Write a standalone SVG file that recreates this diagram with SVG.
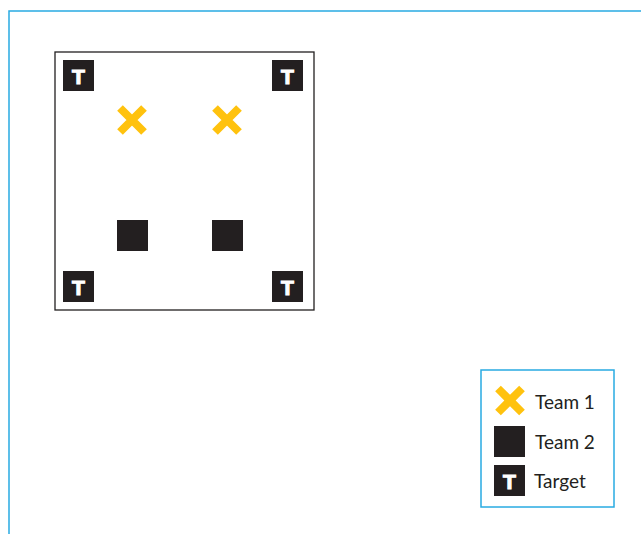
<svg xmlns="http://www.w3.org/2000/svg" width="641" height="534" viewBox="0 0 641 534">
<defs>
<style>
.frame{fill:none;stroke:#29abe2;stroke-width:1.5}
.field{fill:#fff;stroke:#231f20;stroke-width:1.3}
.dark{fill:#231f20}
.x{stroke:#ffc20e;stroke-width:8;fill:none}
.tl{fill:#fff;stroke:#fff;stroke-width:1.2;font-family:"Liberation Sans",Arial,sans-serif;font-weight:bold;font-size:21px;text-anchor:middle}
.lbl{fill:#231f20;font-family:Lato,"Liberation Sans",sans-serif;font-size:19px}
</style>
<g id="tgt"><rect class="dark" x="0" y="0" width="31" height="31"/><text class="tl" x="15.5" y="23.5">T</text></g>
<path id="cross" class="x" d="M-12,-12L12,12M12,-12L-12,12"/>
</defs>
<rect width="641" height="534" fill="#fff"/>
<path class="frame" d="M9,534V11H641"/>
<g id="field"><rect class="field" x="55" y="52" width="259" height="258"/></g>
<g id="target1"><use href="#tgt" x="63" y="60"/></g>
<g id="target2"><use href="#tgt" x="272" y="60"/></g>
<g id="target3"><use href="#tgt" x="63" y="271"/></g>
<g id="target4"><use href="#tgt" x="272" y="271"/></g>
<g id="team1a"><use href="#cross" x="132" y="120"/></g>
<g id="team1b"><use href="#cross" x="227" y="120"/></g>
<g id="team2a"><rect class="dark" x="117" y="220" width="31" height="31"/></g>
<g id="team2b"><rect class="dark" x="212" y="220" width="31" height="31"/></g>
<g id="legend">
<rect class="frame" x="481" y="370" width="133" height="137"/>
<use href="#cross" x="510" y="400.5"/>
<text class="lbl" x="535" y="409">Team 1</text>
<rect class="dark" x="494" y="426" width="31" height="31"/>
<text class="lbl" x="535" y="449">Team 2</text>
<use href="#tgt" x="494" y="465"/>
<text class="lbl" x="534" y="488">Target</text>
</g>
<g id="connectors"/>
</svg>
